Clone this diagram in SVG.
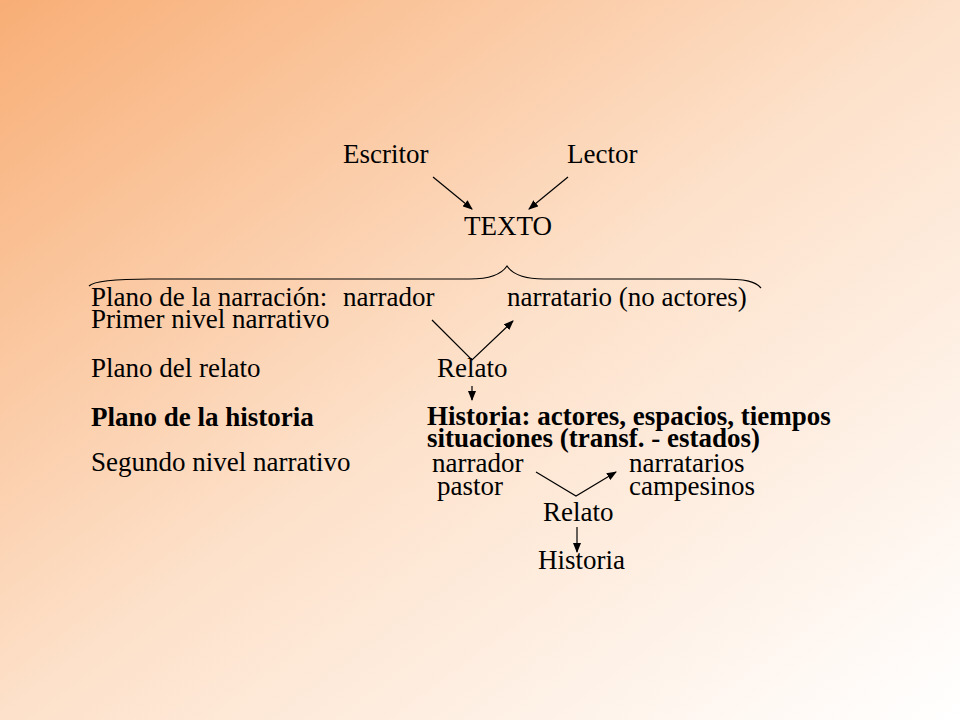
<svg xmlns="http://www.w3.org/2000/svg" width="960" height="720" viewBox="0 0 960 720">
<defs>
<linearGradient id="bg" x1="0" y1="0" x2="1" y2="1">
<stop offset="0" stop-color="#F8AE76"/>
<stop offset="0.5" stop-color="#FDE1CA"/>
<stop offset="1" stop-color="#FFFFFF"/>
</linearGradient>
<marker id="ah" markerWidth="10" markerHeight="8" refX="9" refY="4" orient="auto" markerUnits="userSpaceOnUse">
<path d="M0,0 L10,4 L0,8 Z" fill="#000"/>
</marker>
<style>
.t{font-family:'Liberation Serif','Times New Roman',serif;font-size:27px;fill:#000}
.b{font-weight:bold}
.c{stroke:#000;stroke-width:1.2;fill:none}
.a{marker-end:url(#ah)}
</style>
</defs>
<rect x="0" y="0" width="960" height="720" fill="url(#bg)"/>
<g class="t" font-family="'Liberation Serif', 'Times New Roman', serif" font-size="27">
<g id="escritor"><text x="343" y="163">Escritor</text></g>
<g id="lector"><text x="567" y="163">Lector</text></g>
<g id="texto"><text x="464" y="235">TEXTO</text></g>
<g id="plano-narracion"><text x="91" y="306">Plano de la narración:</text></g>
<g id="narrador1"><text x="343" y="306">narrador</text></g>
<g id="narratario1"><text x="507" y="306">narratario (no actores)</text></g>
<g id="primer-nivel"><text x="91" y="328">Primer nivel narrativo</text></g>
<g id="plano-relato"><text x="91" y="377">Plano del relato</text></g>
<g id="relato1"><text x="437" y="377">Relato</text></g>
<g id="plano-historia"><text class="b" font-weight="bold" x="91" y="426">Plano de la historia</text></g>
<g id="historia1"><text class="b" font-weight="bold" x="427" y="425">Historia: actores, espacios, tiempos</text><text class="b" font-weight="bold" x="427" y="447">situaciones (transf. - estados)</text></g>
<g id="segundo-nivel"><text x="91" y="471">Segundo nivel narrativo</text></g>
<g id="narrador2"><text x="432" y="472">narrador</text><text x="437" y="495">pastor</text></g>
<g id="narratarios2"><text x="629" y="472">narratarios</text><text x="629" y="495">campesinos</text></g>
<g id="relato2"><text x="543" y="521">Relato</text></g>
<g id="historia2"><text x="538" y="569">Historia</text></g>
</g>
<g id="brace"><path class="c" d="M89,286 C95,280 120,279 150,279 L470,279 C495,279 503,272 507,266 C511,272 519,279 544,279 L720,279 C745,279 755,281 761,288"/></g>
<g id="connectors">
<line class="c a" x1="433" y1="177" x2="472" y2="209"/>
<line class="c a" x1="568" y1="177" x2="529" y2="209"/>
<polyline class="c a" points="432,320 472,360 513,321"/>
<line class="c a" x1="472" y1="386" x2="472" y2="400"/>
<polyline class="c a" points="536,472 576,496 616,472"/>
<line class="c a" x1="577" y1="527" x2="577" y2="552"/>
</g>
</svg>
